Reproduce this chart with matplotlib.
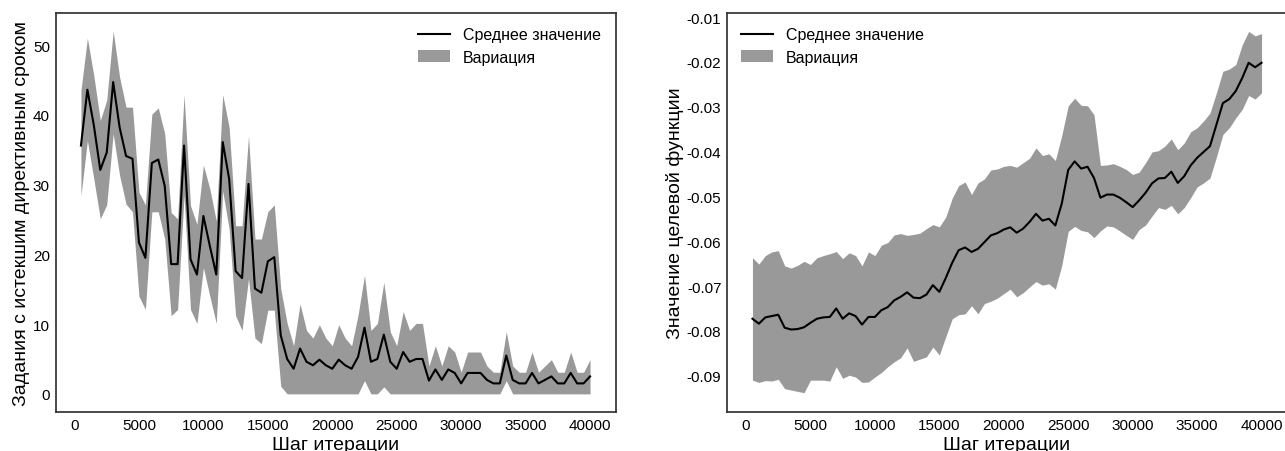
import numpy as np
import matplotlib
matplotlib.use("Agg")
import matplotlib.pyplot as plt

plt.rcParams['font.family'] = ['Liberation Sans', 'DejaVu Sans']
plt.rcParams['axes.unicode_minus'] = False

steps = list(range(500, 40001, 500))

# Left panel: tasks with expired deadline
left_mean = [35.6, 43.6, 38.5, 32.1, 34.6, 44.7, 38.2, 34.1, 33.7, 21.7,
             19.5, 33.1, 33.6, 29.8, 18.6, 18.6, 35.6, 19.3, 17.1, 25.5,
             21.2, 17.1, 36.1, 30.8, 17.6, 16.6, 30.1, 15.1, 14.5, 19.0,
             19.6, 8.4, 5.0, 3.6, 6.5, 4.6, 4.1, 4.9, 4.1, 3.6,
             4.9, 4.1, 3.6, 5.3, 9.5, 4.6, 5.0, 8.5, 4.6, 3.6,
             6.0, 4.6, 5.0, 5.0, 1.9, 3.5, 2.0, 3.5, 3.0, 1.5,
             3.0, 3.0, 3.0, 2.0, 1.5, 1.5, 5.5, 2.0, 1.5, 1.5,
             3.0, 1.5, 2.0, 2.5, 1.5, 1.5, 3.0, 1.5, 1.5, 2.5]
left_upper = [43.5, 51.0, 45.6, 39.2, 42.1, 52.0, 45.4, 41.1, 41.1, 28.9,
              27.1, 40.1, 41.0, 37.3, 26.0, 25.1, 42.9, 27.0, 24.3, 32.8,
              29.4, 24.8, 42.9, 38.2, 24.1, 24.1, 37.0, 22.2, 22.2, 26.1,
              27.1, 15.1, 10.1, 6.9, 12.9, 9.1, 8.0, 9.9, 8.0, 6.9,
              9.9, 8.0, 6.9, 11.3, 17.0, 9.1, 10.1, 16.0, 8.9, 6.9,
              11.8, 9.1, 10.1, 10.1, 4.0, 6.9, 4.0, 6.9, 6.0, 3.1,
              6.0, 6.0, 6.0, 4.0, 3.1, 3.1, 8.9, 4.0, 3.1, 3.1,
              6.0, 3.1, 4.0, 4.9, 3.1, 3.1, 6.0, 3.1, 3.1, 4.9]
left_lower = [28.4, 36.3, 30.8, 25.1, 27.1, 37.3, 31.3, 27.2, 26.1, 14.0,
              12.1, 26.1, 26.1, 22.2, 11.2, 12.1, 28.4, 12.1, 10.1, 18.1,
              14.0, 10.1, 29.1, 23.6, 11.2, 9.1, 16.5, 8.0, 7.2, 12.0,
              12.0, 1.1, 0.0, 0.0, 0.0, 0.0, 0.0, 0.0, 0.0, 0.0,
              0.0, 0.0, 0.0, 0.0, 1.9, 0.0, 0.0, 1.0, 0.0, 0.0,
              0.0, 0.0, 0.0, 0.0, 0.0, 0.0, 0.0, 0.0, 0.0, 0.0,
              0.0, 0.0, 0.0, 0.0, 0.0, 0.0, 1.9, 0.0, 0.0, 0.0,
              0.0, 0.0, 0.0, 0.0, 0.0, 0.0, 0.0, 0.0, 0.0, 0.0]

# Right panel: objective function value
right_mean = [-0.0773, -0.0784, -0.0770, -0.0767, -0.0764, -0.0793, -0.0797, -0.0796, -0.0792, -0.0782,
              -0.0773, -0.0770, -0.0769, -0.0750, -0.0773, -0.0761, -0.0767, -0.0786, -0.0769, -0.0769,
              -0.0754, -0.0747, -0.0732, -0.0724, -0.0714, -0.0726, -0.0727, -0.0719, -0.0698, -0.0713,
              -0.0682, -0.0648, -0.0620, -0.0614, -0.0624, -0.0617, -0.0602, -0.0587, -0.0582, -0.0574,
              -0.0569, -0.0581, -0.0572, -0.0557, -0.0539, -0.0554, -0.0550, -0.0565, -0.0516, -0.0441,
              -0.0422, -0.0438, -0.0434, -0.0459, -0.0503, -0.0496, -0.0496, -0.0503, -0.0513, -0.0524,
              -0.0509, -0.0492, -0.0471, -0.0460, -0.0459, -0.0445, -0.0470, -0.0455, -0.0431, -0.0414,
              -0.0401, -0.0388, -0.0340, -0.0292, -0.0283, -0.0265, -0.0236, -0.0202, -0.0212, -0.0202]
right_upper = [-0.0637, -0.0651, -0.0632, -0.0624, -0.0621, -0.0655, -0.0660, -0.0654, -0.0645, -0.0652,
               -0.0637, -0.0632, -0.0628, -0.0623, -0.0639, -0.0626, -0.0632, -0.0655, -0.0624, -0.0632,
               -0.0609, -0.0603, -0.0586, -0.0583, -0.0587, -0.0585, -0.0582, -0.0572, -0.0563, -0.0568,
               -0.0546, -0.0504, -0.0476, -0.0468, -0.0496, -0.0470, -0.0461, -0.0441, -0.0439, -0.0433,
               -0.0431, -0.0435, -0.0425, -0.0415, -0.0392, -0.0409, -0.0405, -0.0420, -0.0364, -0.0298,
               -0.0281, -0.0297, -0.0298, -0.0318, -0.0431, -0.0430, -0.0427, -0.0433, -0.0440, -0.0451,
               -0.0446, -0.0425, -0.0401, -0.0398, -0.0388, -0.0372, -0.0396, -0.0381, -0.0356, -0.0347,
               -0.0332, -0.0314, -0.0269, -0.0221, -0.0216, -0.0206, -0.0162, -0.0132, -0.0142, -0.0137]
right_lower = [-0.0910, -0.0915, -0.0911, -0.0912, -0.0908, -0.0929, -0.0932, -0.0935, -0.0938, -0.0910,
               -0.0910, -0.0910, -0.0912, -0.0880, -0.0906, -0.0899, -0.0903, -0.0915, -0.0914, -0.0903,
               -0.0893, -0.0880, -0.0869, -0.0860, -0.0838, -0.0868, -0.0863, -0.0858, -0.0836, -0.0854,
               -0.0813, -0.0773, -0.0764, -0.0762, -0.0744, -0.0762, -0.0739, -0.0734, -0.0727, -0.0717,
               -0.0707, -0.0724, -0.0715, -0.0702, -0.0690, -0.0698, -0.0695, -0.0707, -0.0654, -0.0578,
               -0.0567, -0.0576, -0.0579, -0.0592, -0.0577, -0.0566, -0.0568, -0.0577, -0.0587, -0.0596,
               -0.0574, -0.0564, -0.0544, -0.0525, -0.0529, -0.0520, -0.0539, -0.0525, -0.0503, -0.0479,
               -0.0470, -0.0459, -0.0412, -0.0362, -0.0347, -0.0325, -0.0306, -0.0275, -0.0283, -0.0269]

xlabel = "Шаг итерации"
left_ylabel = "Задания с истекшим директивным сроком"
right_ylabel = "Значение целевой функции"
mean_label = "Среднее значение"
var_label = "Вариация"

W, H = 1285, 452
fig = plt.figure(figsize=(W / 100, H / 100), dpi=100)
bottom = 1 - 413 / H
height = (413 - 14) / H
axL = fig.add_axes([55.5 / W, bottom, 560 / W, height])
axR = fig.add_axes([727 / W, bottom, 560 / W, height])

fill_color = "#999999"
spine_color = "#333333"

for ax, mean, lo, hi, ylab, loc in [
    (axL, left_mean, left_lower, left_upper, left_ylabel, "upper right"),
    (axR, right_mean, right_lower, right_upper, right_ylabel, "upper left"),
]:
    ax.fill_between(steps, lo, hi, color=fill_color, linewidth=0, label=var_label)
    ax.plot(steps, mean, color="black", linewidth=1.5, label=mean_label)
    ax.set_xlabel(xlabel, fontsize=14, labelpad=3)
    ax.set_ylabel(ylab, fontsize=14, labelpad=2)
    ax.tick_params(axis="both", length=0, labelsize=11, pad=4)
    for s in ax.spines.values():
        s.set_color(spine_color)
        s.set_linewidth(1.25)
    ax.set_xticks([0, 5000, 10000, 15000, 20000, 25000, 30000, 35000, 40000])
    h, l = ax.get_legend_handles_labels()
    ax.legend([h[1], h[0]], [l[1], l[0]], loc=loc, frameon=False, fontsize=11.5,
              handlelength=2.0, handletextpad=0.8, labelspacing=0.45)

axL.set_xlim(-1475, 41975)
axR.set_xlim(-1475, 41975)
axL.set_ylim(-2.6, 54.6)
axL.set_yticks([0, 10, 20, 30, 40, 50])
axR.set_ylim(-0.0981, -0.0091)
axR.set_yticks([-0.09, -0.08, -0.07, -0.06, -0.05, -0.04, -0.03, -0.02, -0.01])

fig.savefig("out.png", dpi=100)
